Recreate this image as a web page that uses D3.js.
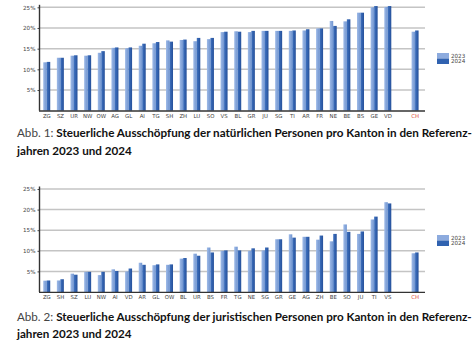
<!DOCTYPE html>
<html><head><meta charset="utf-8">
<script src="https://cdn.jsdelivr.net/npm/d3@7"></script>
<style>html,body{margin:0;padding:0;background:#fff;}svg{display:block;}</style>
</head><body>
<svg id="c" width="474" height="356"></svg>
<script>
const years = ["2023", "2024"];
const yTicks = [5, 10, 15, 20, 25];

const natCantons = ["ZG","SZ","UR","NW","OW","AG","GL","AI","TG","SH","ZH","LU","SO","VS","BL","GR","JU","SG","TI","AR","FR","NE","BE","BS","GE","VD","CH"];
const nat2023 = [11.7,12.8,13.3,13.3,14.0,15.2,15.1,15.7,16.3,17.0,17.1,16.8,17.3,19.0,19.2,19.0,19.3,19.3,19.3,19.4,19.9,21.7,21.6,23.7,25.0,25.1,19.1];
const nat2024 = [11.8,12.8,13.4,13.4,14.4,15.3,15.3,16.2,16.6,16.7,17.2,17.6,17.6,19.1,19.1,19.3,19.3,19.3,19.4,19.7,19.9,20.5,22.1,23.7,25.3,25.3,19.4];

const jurCantons = ["ZG","SH","SZ","LU","NW","AI","VD","AR","GL","OW","BL","UR","BS","FR","TG","NE","SG","GR","GE","AG","ZH","BE","SO","JU","TI","VS","CH"];
const jur2023 = [2.75,2.8,4.45,4.9,4.1,5.5,5.0,7.1,6.5,6.6,8.1,9.3,10.8,10.0,11.0,10.0,10.1,12.8,14.0,13.4,12.7,12.3,16.4,14.1,17.6,21.8,9.4];
const jur2024 = [2.8,3.1,4.2,4.9,4.9,5.1,5.7,6.6,6.7,6.7,8.25,8.8,9.6,10.1,10.1,10.6,10.8,12.8,13.2,13.4,13.7,14.1,14.6,14.7,18.3,21.5,9.6];

const caption1a = "Abb. 1: ";
const caption1b = "Steuerliche Ausschöpfung der natürlichen Personen pro Kanton in den Referenz-";
const caption2a = "Abb. 2: ";
const caption2b = "Steuerliche Ausschöpfung der juristischen Personen pro Kanton in den Referenz-";
const captionLine2 = "jahren 2023 und 2024";

const svg = d3.select("#c");
const colors = {"2023": "#8dabde", "2024": "#3062b0"};

const defs = svg.append("defs");
function grad(id, c1, c2) {
  const g = defs.append("linearGradient").attr("id", id).attr("x1", 0).attr("x2", 1).attr("y1", 0).attr("y2", 0);
  g.append("stop").attr("offset", "0%").attr("stop-color", c1);
  g.append("stop").attr("offset", "100%").attr("stop-color", c2);
}
grad("g2023", "#9fbbe8", "#7094cf");
grad("g2024", "#3f72c0", "#25509a");

function drawChart(cats, v23, v24, y0, y25, legendY) {
  const g = svg.append("g");
  const domain = cats.slice(0, cats.length - 1).concat(["_gap", cats[cats.length - 1]]);
  const x = d3.scaleBand().domain(domain).range([40, 422]).padding(0);
  const x1 = d3.scaleBand().domain(years).range([-3.6, 3.4]).padding(0);
  const y = d3.scaleLinear().domain([0, 25]).range([y0, y25]);

  g.selectAll("line.grid").data(yTicks).join("line")
    .attr("x1", 39).attr("x2", 425)
    .attr("y1", d => y(d)).attr("y2", d => y(d))
    .attr("stroke", "#c4c4c4").attr("stroke-width", 1.5);

  const ya = d3.axisLeft(y).tickValues(yTicks).tickFormat(d => d + "%").tickSize(2).tickPadding(2);
  const yg = g.append("g").attr("transform", "translate(39.5,0)").call(ya);
  yg.select(".domain").remove();
  yg.selectAll(".tick line").attr("stroke", "#444");
  yg.selectAll(".tick text").attr("font-family", "DejaVu Sans").attr("font-size", 5.6).attr("fill", "#444");
  g.append("line").attr("x1", 39.5).attr("x2", 39.5).attr("y1", y25 - 2.5).attr("y2", y0)
    .attr("stroke", "#333").attr("stroke-width", 1.4);

  const rows = cats.map((c, i) => ({c, vals: [{k: "2023", v: v23[i]}, {k: "2024", v: v24[i]}]}));
  const bg = g.selectAll("g.cat").data(rows).join("g")
    .attr("transform", d => `translate(${x(d.c) + x.bandwidth() / 2},0)`);
  bg.selectAll("rect").data(d => d.vals).join("rect")
    .attr("x", d => x1(d.k))
    .attr("width", x1.bandwidth())
    .attr("y", d => y(d.v))
    .attr("height", d => y(0) - y(d.v))
    .attr("fill", d => `url(#g${d.k})`);

  const xa = d3.axisBottom(x).tickValues(domain.filter(d => d !== "_gap")).tickSize(0).tickPadding(3.5);
  const xg = g.append("g").attr("transform", `translate(0,${y0})`).call(xa);
  xg.select(".domain").remove();
  xg.selectAll(".tick text").attr("font-family", "DejaVu Sans").attr("font-size", 5.4)
    .attr("fill", d => d === "CH" ? "#e0533f" : "#444");
  g.append("line").attr("x1", 39).attr("x2", 425).attr("y1", y0 + 0.3).attr("y2", y0 + 0.3)
    .attr("stroke", "#333").attr("stroke-width", 1.3);

  const lg = g.append("g").attr("transform", `translate(437,${legendY})`);
  lg.selectAll("rect").data(years).join("rect")
    .attr("x", 0).attr("y", (d, i) => i * 5.5).attr("width", 12).attr("height", 5.5)
    .attr("fill", d => colors[d]);
  lg.selectAll("text").data(years).join("text")
    .attr("x", 14).attr("y", (d, i) => i * 5.5 + 4.8)
    .attr("font-family", "DejaVu Sans").attr("font-size", 5.6).attr("fill", "#444")
    .text(d => d);
}

drawChart(natCantons, nat2023, nat2024, 110.7, 7.3, 53);
drawChart(jurCantons, jur2023, jur2024, 292, 189, 235);

function caption(a, b, yLine1, yLine2) {
  const t = svg.append("text").attr("x", 17).attr("y", yLine1)
    .attr("font-family", "Lato").attr("font-size", 10.5).attr("fill", "#111");
  t.append("tspan").attr("font-weight", "normal").attr("fill", "#444").text(a);
  t.append("tspan").attr("font-weight", "bold").text(b);
  const w = t.node().getComputedTextLength();
  const fs = 10.5 * 455 / w;
  t.attr("font-size", fs);
  svg.append("text").attr("x", 17).attr("y", yLine2)
    .attr("font-family", "Lato").attr("font-size", fs).attr("font-weight", "bold").attr("fill", "#111")
    .text(captionLine2);
}
caption(caption1a, caption1b, 137, 155);
caption(caption2a, caption2b, 320.5, 338);
</script>
</body></html>
